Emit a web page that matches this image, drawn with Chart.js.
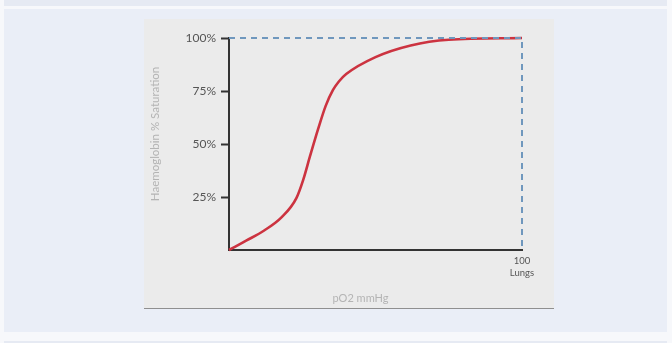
<!DOCTYPE html>
<html>
<head>
<meta charset="utf-8">
<script src="https://cdn.jsdelivr.net/npm/chart.js@4/dist/chart.umd.min.js"></script>
<style>
  html, body { margin: 0; padding: 0; background: #f7f8fb; width: 672px; height: 343px; overflow: hidden; }
  .strip { position: absolute; left: 4px; width: 663px; background: #e6eaf3; }
  .panel { position: absolute; left: 4px; top: 9px; width: 663px; height: 323px; background: #eaeef7; }
  .box { position: absolute; left: 144px; top: 19px; width: 410px; height: 289px; background: #ebebeb; border-bottom: 1px solid #8f8f8f; }
  canvas { display: block; }
</style>
</head>
<body>
<div class="strip" style="top:0;height:6px"></div>
<div class="panel"></div>
<div class="strip" style="top:341px;height:2px"></div>
<div class="box"><canvas id="c" width="410" height="289"></canvas></div>
<script>
// Oxygen–haemoglobin dissociation curve
const po2 = [0, 6, 12, 18, 23, 25.3, 27.6, 30.4, 33, 35.5, 37.5, 40, 50, 62, 75, 100];
const saturation = [0, 4.5, 9.2, 15.5, 24.5, 33, 44, 57, 68, 75.5, 79.5, 83, 91, 96.5, 99.2, 100];
// Reference lines: 100% saturation level and the "Lungs" pO2
const refX = [0, 100, 100];
const refY = [100, 100, 0];
const yTickValues = [0, 25, 50, 75, 100];
const xTickValues = [100];
const xTickLabel = ['100', 'Lungs'];
const xTitle = 'pO2 mmHg';
const yTitle = 'Haemoglobin % Saturation';

const curve = po2.map((x, i) => ({ x: x, y: saturation[i] }));
const ref = refX.map((x, i) => ({ x: x, y: refY[i] }));

const titlePlugin = {
  id: 'axisTitles',
  afterDraw(chart) {
    const ctx = chart.ctx, a = chart.chartArea;
    ctx.save();
    ctx.fillStyle = '#b4b4b4';
    ctx.font = '11px Lato, "Open Sans", sans-serif';
    ctx.textAlign = 'center';
    ctx.textBaseline = 'middle';
    ctx.fillText(xTitle, (a.left + a.right) / 2 - 15, a.bottom + 48);
    ctx.translate(11, (a.top + a.bottom) / 2 - 10);
    ctx.rotate(-Math.PI / 2);
    ctx.font = '11.5px Lato, "Open Sans", sans-serif';
    ctx.fillText(yTitle, 0, 0);
    ctx.restore();
  }
};

new Chart(document.getElementById('c'), {
  type: 'line',
  data: {
    datasets: [
      { data: ref, borderColor: '#6f97bd', borderWidth: 2, borderDash: [6, 5], pointRadius: 0, tension: 0, clip: false, fill: false },
      { data: curve, borderColor: '#cc3340', borderWidth: 2.6, pointRadius: 0, cubicInterpolationMode: 'monotone', clip: false, fill: false }
    ]
  },
  options: {
    responsive: false,
    animation: false,
    layout: { padding: { left: 0, right: 32, top: 19, bottom: 0 } },
    plugins: { legend: { display: false }, tooltip: { enabled: false } },
    scales: {
      x: {
        type: 'linear', min: 0, max: 100,
        afterBuildTicks: s => { s.ticks = xTickValues.map(v => ({ value: v })); },
        afterFit: s => { s.height = 58; },
        grid: { display: true, drawOnChartArea: false, drawTicks: false },
        border: { display: true, color: '#333', width: 2 },
        ticks: {
          padding: 5, color: '#555',
          font: { family: 'Lato, "Open Sans", sans-serif', size: 9.5, lineHeight: 1.25 },
          callback: v => (v === 100 ? xTickLabel : '')
        }
      },
      y: {
        type: 'linear', min: 0, max: 100,
        afterBuildTicks: s => { s.ticks = yTickValues.map(v => ({ value: v })); },
        afterFit: s => { s.width = 85; },
        grid: {
          display: true, drawOnChartArea: false, drawTicks: true, tickLength: 8, tickWidth: 2,
          tickColor: c => (c.tick && c.tick.value === 0 ? 'rgba(0,0,0,0)' : '#333')
        },
        border: { display: true, color: '#333', width: 2 },
        ticks: {
          padding: 5, color: '#555',
          font: { family: 'Lato, "Open Sans", sans-serif', size: 12 },
          callback: v => (v === 0 ? '' : v + '%')
        }
      }
    }
  },
  plugins: [titlePlugin]
});
</script>
</body>
</html>
